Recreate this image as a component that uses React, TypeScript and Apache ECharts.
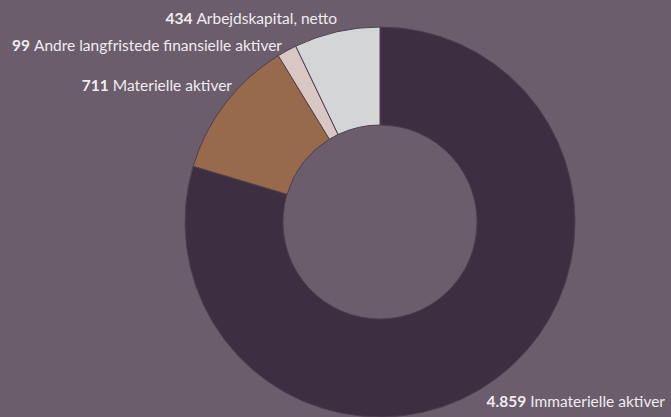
import React, { useEffect, useRef } from "react";
import * as echarts from "echarts";

const categories = [
  "Immaterielle aktiver",
  "Materielle aktiver",
  "Andre langfristede finansielle aktiver",
  "Arbejdskapital, netto",
];
const values = [4859, 711, 99, 434];
const colors = ["#3e2e41", "#976a4c", "#d8c7c3", "#d3d5d7"];

// label anchor positions (right edge x, center y) in px
const labelAnchors: [number, number][] = [
  [665, 401],
  [232, 85],
  [282, 45],
  [337, 18],
];

const fmt = (v: number) => v.toLocaleString("da-DK");

export default function App() {
  const ref = useRef<HTMLDivElement>(null);
  useEffect(() => {
    document.body.style.margin = "0";
    const chart = echarts.init(ref.current!, null, { renderer: "svg" });
    chart.setOption({
      animation: false,
      backgroundColor: "#6b5d6b",
      series: [
        {
          type: "pie",
          center: [380, 222],
          radius: [97, 195],
          startAngle: 90,
          clockwise: true,
          data: categories.map((c, i) => ({
            name: c,
            value: values[i],
            itemStyle: { color: colors[i] },
          })),
          itemStyle: { borderColor: "#4e3f50", borderWidth: 1 },
          label: {
            show: true,
            position: "outside",
            color: "#f0ecf0",
            fontFamily: "Lato",
            fontSize: 15.5,
            overflow: "none",
            formatter: (p: any) => `{v|${fmt(p.value)}} {n|${p.name}}`,
            rich: {
              v: { fontWeight: "bold", fontSize: 15.5, fontFamily: "Lato", color: "#f0ecf0" },
              n: { fontSize: 15.5, fontFamily: "Lato", color: "#f0ecf0" },
            },
          },
          labelLine: { show: false },
          labelLayout: (params: any) => {
            const a = labelAnchors[params.dataIndex];
            return { x: a[0], y: a[1], align: "right", verticalAlign: "middle", width: 400 };
          },
          emphasis: { disabled: true },
        },
      ],
    });
    return () => chart.dispose();
  }, []);
  return (
    <div
      ref={ref}
      style={{ position: "absolute", left: 0, top: 0, width: 671, height: 417 }}
    />
  );
}
